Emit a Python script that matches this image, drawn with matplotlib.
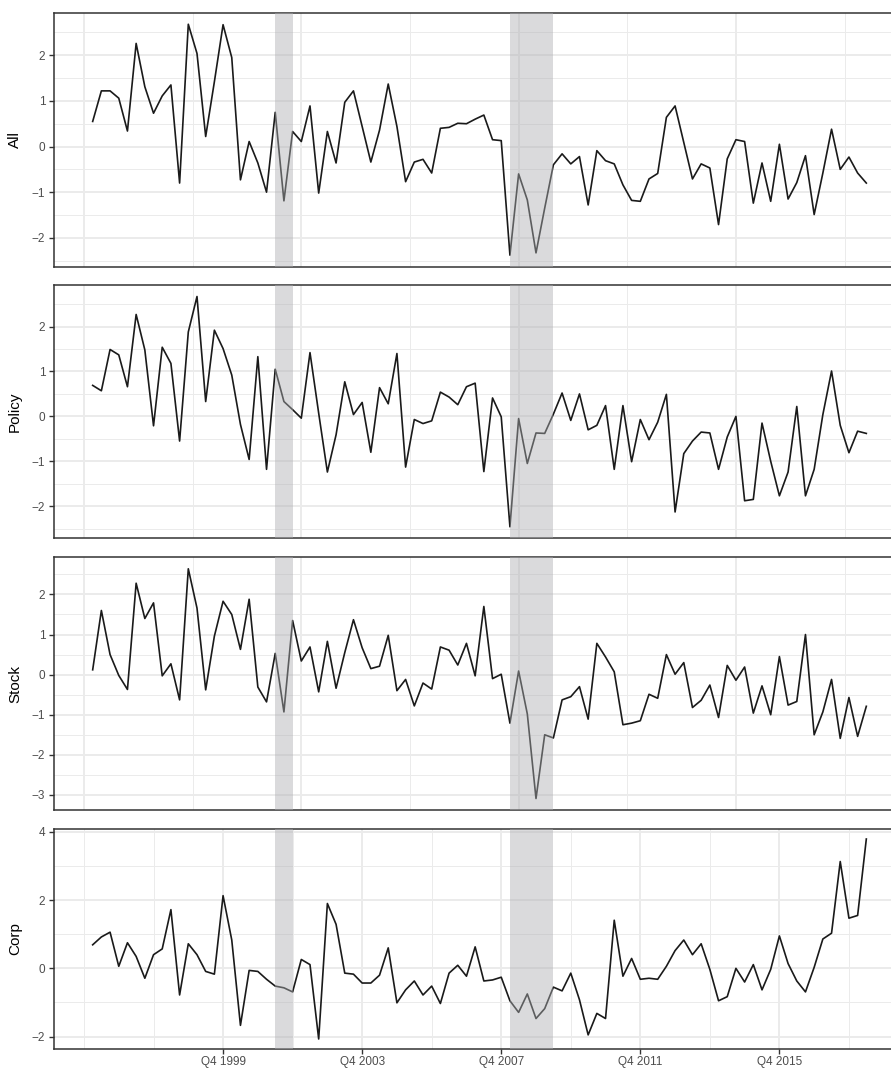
import numpy as np
import matplotlib.pyplot as plt

# quarterly index, Q1 1996 .. Q2 2018
quarter = np.arange(1, 91)

all_idx = [0.55, 1.22, 1.22, 1.06, 0.34, 2.26, 1.31, 0.73, 1.11, 1.35,
           -0.80, 2.68, 2.04, 0.22, 1.42, 2.67, 1.95, -0.73, 0.11, -0.36,
           -1.00, 0.75, -1.19, 0.33, 0.11, 0.89, -1.02, 0.33, -0.36, 0.97,
           1.22, 0.44, -0.34, 0.36, 1.37, 0.44, -0.77, -0.34, -0.28, -0.58,
           0.40, 0.42, 0.51, 0.50, 0.60, 0.69, 0.15, 0.13, -2.38, -0.60,
           -1.17, -2.33, -1.35, -0.40, -0.16, -0.38, -0.22, -1.28, -0.09, -0.31,
           -0.38, -0.84, -1.18, -1.20, -0.71, -0.59, 0.64, 0.89, 0.09, -0.71,
           -0.38, -0.47, -1.71, -0.27, 0.15, 0.11, -1.24, -0.36, -1.20, 0.05,
           -1.15, -0.79, -0.20, -1.49, -0.58, 0.38, -0.50, -0.23, -0.58, -0.80]

policy = [0.69, 0.57, 1.49, 1.37, 0.66, 2.27, 1.48, -0.21, 1.54, 1.18,
          -0.55, 1.88, 2.67, 0.33, 1.92, 1.51, 0.92, -0.18, -0.96, 1.33,
          -1.18, 1.05, 0.33, 0.15, -0.04, 1.42, 0.07, -1.24, -0.41, 0.77,
          0.04, 0.31, -0.80, 0.64, 0.28, 1.40, -1.13, -0.07, -0.16, -0.10,
          0.54, 0.43, 0.26, 0.66, 0.74, -1.23, 0.41, -0.01, -2.46, -0.05,
          -1.05, -0.37, -0.38, 0.05, 0.52, -0.09, 0.50, -0.30, -0.20, 0.24,
          -1.18, 0.24, -1.01, -0.07, -0.52, -0.13, 0.49, -2.13, -0.83, -0.55,
          -0.35, -0.37, -1.18, -0.46, 0.00, -1.88, -1.85, -0.15, -1.00, -1.77,
          -1.24, 0.22, -1.77, -1.18, 0.04, 1.01, -0.20, -0.81, -0.33, -0.38]

stock = [0.12, 1.60, 0.50, -0.02, -0.37, 2.28, 1.40, 1.79, -0.03, 0.27,
         -0.63, 2.64, 1.66, -0.38, 0.96, 1.83, 1.50, 0.63, 1.88, -0.31,
         -0.68, 0.53, -0.93, 1.35, 0.34, 0.69, -0.43, 0.83, -0.34, 0.55,
         1.37, 0.67, 0.15, 0.21, 0.98, -0.40, -0.12, -0.78, -0.21, -0.36,
         0.69, 0.61, 0.24, 0.78, -0.03, 1.70, -0.10, 0.01, -1.21, 0.09,
         -0.98, -3.09, -1.50, -1.58, -0.63, -0.55, -0.30, -1.11, 0.78, 0.44,
         0.07, -1.25, -1.21, -1.15, -0.49, -0.59, 0.50, 0.01, 0.30, -0.82,
         -0.64, -0.26, -1.07, 0.23, -0.14, 0.19, -0.96, -0.28, -1.00, 0.45,
         -0.76, -0.67, 1.00, -1.50, -0.93, -0.12, -1.59, -0.57, -1.54, -0.79]

corp = [0.69, 0.92, 1.06, 0.06, 0.75, 0.35, -0.29, 0.40, 0.57, 1.72,
        -0.78, 0.72, 0.40, -0.09, -0.17, 2.13, 0.83, -1.67, -0.06, -0.09,
        -0.32, -0.52, -0.57, -0.69, 0.26, 0.11, -2.07, 1.90, 1.29, -0.14,
        -0.17, -0.43, -0.43, -0.20, 0.60, -1.01, -0.63, -0.37, -0.78, -0.52,
        -1.03, -0.14, 0.09, -0.23, 0.63, -0.37, -0.34, -0.26, -0.95, -1.29,
        -0.75, -1.47, -1.18, -0.55, -0.66, -0.14, -0.92, -1.95, -1.32, -1.47,
        1.41, -0.23, 0.29, -0.32, -0.29, -0.32, 0.06, 0.52, 0.83, 0.40,
        0.72, -0.03, -0.95, -0.83, 0.00, -0.40, 0.11, -0.63, -0.03, 0.95,
        0.14, -0.37, -0.69, 0.03, 0.86, 1.03, 3.13, 1.47, 1.55, 3.79]

# recession spans, in quarter index
recessions = [(22, 24), (49, 54)]

# bottom axis labels
date_ticks = [16, 32, 48, 64, 80]
date_labels = ["Q4 1999", "Q4 2003", "Q4 2007", "Q4 2011", "Q4 2015"]

plt.rcParams['font.family'] = ['Liberation Sans', 'DejaVu Sans']

W, H = 891, 1069
fig = plt.figure(figsize=(W / 100, H / 100), dpi=100)

GRID = "#EBEBEB"
DARK = "#333333"

# name, series, top px, bottom px, y ticks
panels = [
    ("All", all_idx, 12.7, 266.7, [-2, -1, 0, 1, 2]),
    ("Policy", policy, 285.0, 538.3, [-2, -1, 0, 1, 2]),
    ("Stock", stock, 557.3, 810.0, [-3, -2, -1, 0, 1, 2]),
    ("Corp", corp, 829.0, 1049.0, [-2, 0, 2, 4]),
]

left_px, right_px = 54, 905

for k, (name, series, top, bottom, yt) in enumerate(panels):
    ax = fig.add_axes([left_px / W, 1 - bottom / H,
                       (right_px - left_px) / W, (bottom - top) / H])
    ax.plot(quarter, series, color="#1a1a1a", lw=1.2, zorder=2)
    for a, b in recessions:
        ax.axvspan(a, b, color="#aeafb3", alpha=0.45, lw=0, zorder=3)

    step = yt[1] - yt[0]
    ax.set_yticks(yt)
    ax.set_yticks(np.arange(yt[0] - step / 2, yt[-1] + step, step), minor=True)
    ax.set_yticklabels([str(v).replace("-", "\u2212") for v in yt])

    last = k == len(panels) - 1
    if last:
        ax.set_xticks(date_ticks)
        ax.set_xticklabels(date_labels)
        ax.set_xticks([0, 8, 24, 40, 56, 72, 88], minor=True)
    else:
        ax.set_xticks([0, 25, 50, 75])
        ax.set_xticks([12.5, 37.5, 62.5, 87.5], minor=True)

    # 5% padding around the data, like ggplot's default expansion
    lo, hi = min(series), max(series)
    pad = 0.05 * (hi - lo)
    ax.set_ylim(lo - pad, hi + pad)
    ax.set_xlim(-3.45, 94.45)

    ax.tick_params(which="major", length=3.8, width=1.0, color=DARK,
                   labelcolor="#4D4D4D", labelsize=8.5, pad=2.5)
    ax.tick_params(which="minor", length=0)
    if last:
        ax.tick_params(axis="x", which="major", pad=1)
    else:
        ax.tick_params(axis="x", which="major", length=0, labelbottom=False)
    ax.grid(which="major", color=GRID, lw=1.4)
    ax.grid(which="minor", color=GRID, lw=0.7)
    ax.set_axisbelow(True)
    for sp in ax.spines.values():
        sp.set_color(DARK)
        sp.set_linewidth(1.1)

    fig.text(15 / W, 1 - (top + bottom) / 2 / H, name, rotation=90,
             ha="center", va="center", fontsize=11, color="black")

fig.savefig("out.png", dpi=100)
